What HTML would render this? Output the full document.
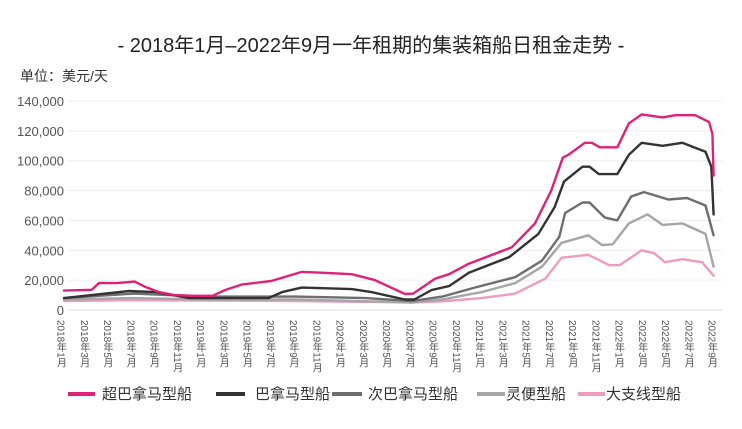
<!DOCTYPE html>
<html><head><meta charset="utf-8"><style>
body{margin:0;background:#fff;}
svg text{font-family:"Liberation Sans","Noto Sans CJK SC",sans-serif;}
</style></head><body>
<svg id="s" width="742" height="424" xmlns="http://www.w3.org/2000/svg">
<rect width="742" height="424" fill="#fff"/>
<text x="371" y="52" text-anchor="middle" font-size="20" fill="#222">- 2018年1月–2022年9月一年租期的集装箱船日租金走势 -</text>
<text x="20" y="81" font-size="14" fill="#333">单位：美元/天</text>
<g id="grid" stroke="#eee" stroke-width="1"></g>
<g id="yl" font-size="13" fill="#555" text-anchor="end"></g>
<g id="xl" font-size="10" fill="#555"></g>
<g id="lines" fill="none" stroke-linejoin="round" stroke-linecap="round"></g>
<g font-size="15" fill="#333">
<line x1="68" y1="394" x2="95" y2="394" stroke="#e0217a" stroke-width="4"/><text x="102" y="399">超巴拿马型船</text>
<line x1="216" y1="394" x2="245" y2="394" stroke="#333" stroke-width="4"/><text x="255" y="399">巴拿马型船</text>
<line x1="332" y1="394" x2="362" y2="394" stroke="#6e6e6e" stroke-width="4"/><text x="368" y="399">次巴拿马型船</text>
<line x1="477" y1="394" x2="505" y2="394" stroke="#a6a6a6" stroke-width="4"/><text x="506" y="399">灵便型船</text>
<line x1="578" y1="394" x2="605" y2="394" stroke="#ef9cbf" stroke-width="4"/><text x="606" y="399">大支线型船</text>
</g>
</svg>
<script>
var NS="http://www.w3.org/2000/svg";
function el(t,a,p,txt){var e=document.createElementNS(NS,t);for(var k in a)e.setAttribute(k,a[k]);if(txt)e.textContent=txt;document.getElementById(p).appendChild(e);}
function Y(v){return 310-v*1.493;}
function X(m){return 64+11.6*m;}
for(var i=0;i<=7;i++){var y=Y(i*20);el('line',{x1:68,x2:722,y1:y,y2:y,stroke:i==0?'#ddd':'#eee'},'grid');
el('text',{x:64,y:y+5},'yl',i==0?'0':(i*20)+',000');}
var mm=[1,3,5,7,9,11];var k=0;
for(var yr=2018;yr<=2022;yr++)for(var j=0;j<6;j++){var mo=mm[j];if(yr==2022&&mo>9)break;var x=60+23.25*k;k++;
el('text',{x:x,y:320,'style':'writing-mode:vertical-rl;'},'xl',yr+'年'+mo+'月');}
var S=[
['#ef9cbf',[[0,6],[5,6.5],[8,6.5],[20,6],[30,5],[33,6],[36,8],[38.9,11],[41.5,21],[42.9,35],[45.2,37],[47,30],[47.9,30],[49.8,40],[50.9,38],[51.8,32],[53.3,34],[55,32],[56,23]]],
['#a6a6a6',[[0,7],[6,8],[12,7],[20,7],[30,5],[32.6,7],[36,12],[38.9,18],[41.2,29],[42.9,45],[45.2,50],[46.4,43.5],[47.3,44],[48.7,58],[50.3,64],[51.6,57],[53.3,58],[55.3,51],[56,29]]],
['#6e6e6e',[[0,8],[6,11],[9,10],[12,9],[20,9],[26,8],[30,6],[32.6,9],[35.4,15],[38.9,22],[41.2,33],[42.7,49],[43.2,65],[44.7,72],[45.3,72],[46.6,62],[47.7,60],[48.9,76],[50,79],[52.1,74],[53.7,75],[55.3,70],[56,50]]],
['#333',[[0,8],[5.6,12.7],[7.9,12],[10.8,8],[17.6,8],[18.8,12],[20.5,15],[24.8,14],[26.5,12],[29.4,7],[30.2,7],[31.7,13.4],[33.2,16],[34.9,25],[38.4,35.5],[40.9,51],[42.3,69],[43.1,86],[44.7,96],[45.3,96],[46.1,91],[47.7,91],[48.7,104],[49.8,112],[51.6,110],[53.3,112],[55.3,106],[55.8,96],[56,64]]],
['#e0217a',[[0,13],[2.4,13.5],[3,18],[4.5,18],[6.1,19],[7,15.5],[8.2,12],[9.5,10],[11.3,9.5],[12.8,9.5],[13.9,13.4],[15.3,17],[17.9,19.5],[20.5,25.5],[22.2,25],[24.8,24],[26.8,20],[29.4,10.7],[30.1,11],[32,21],[33.2,24],[34.9,31],[38.6,42],[40.6,58],[42,80],[43,102],[43.5,104],[44.9,112],[45.5,112],[46.2,109],[47.7,109],[48.7,125],[49.8,131],[51.6,129],[52.7,130.5],[54.4,130.5],[55.6,126],[55.9,118],[56,90]]]];
S.forEach(function(s){var d=s[1].map(function(p,i){return(i?'L':'M')+X(p[0]).toFixed(1)+' '+Y(p[1]).toFixed(1);}).join(' ');
el('path',{d:d,stroke:s[0],'stroke-width':2.4},'lines');});
</script>
</body></html>
